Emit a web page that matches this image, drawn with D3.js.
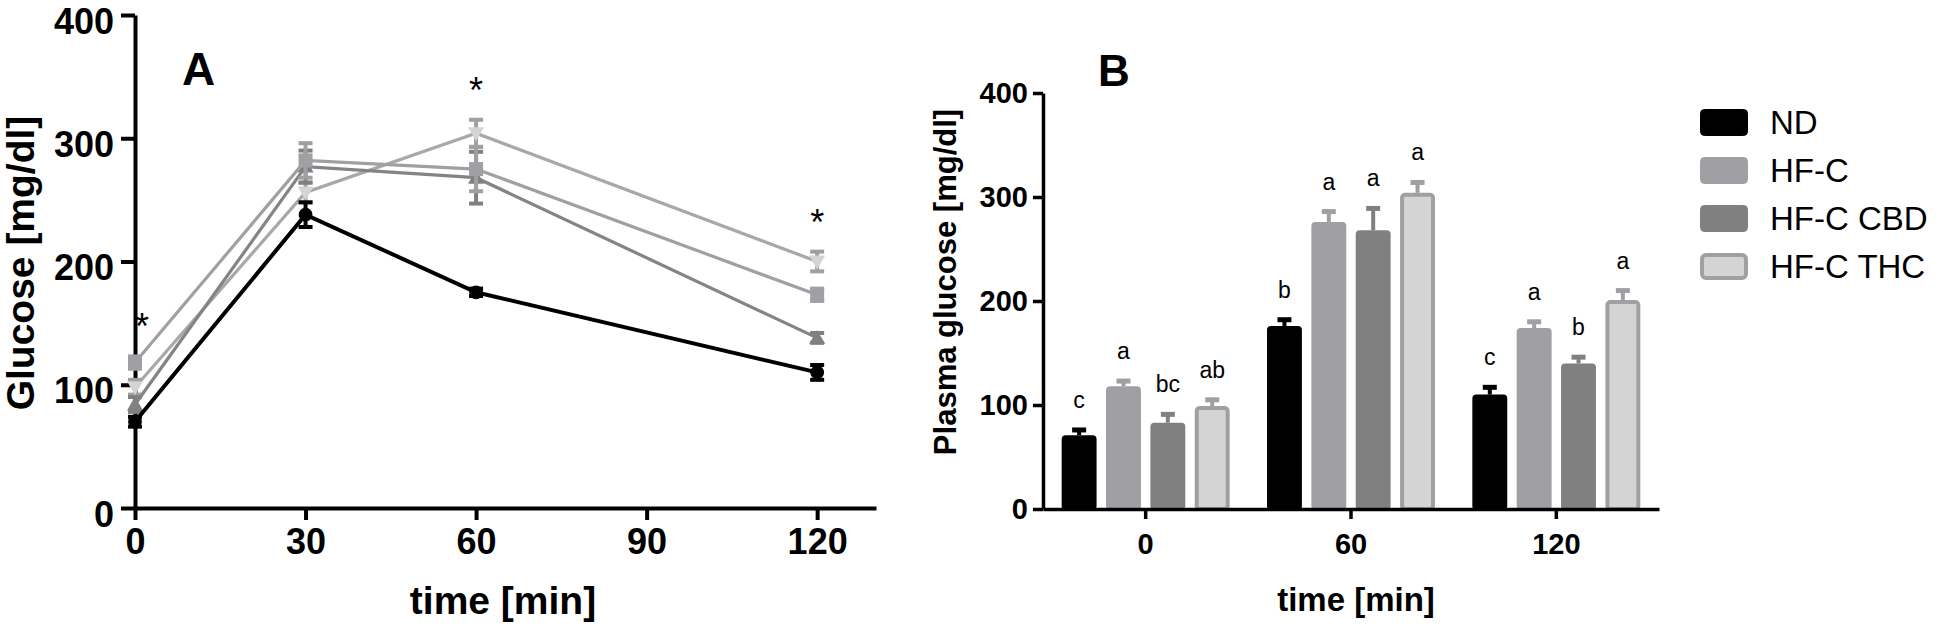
<!DOCTYPE html>
<html>
<head>
<meta charset="utf-8">
<script src="https://cdn.jsdelivr.net/npm/d3@7"></script>
<style>
html,body{margin:0;padding:0;background:#fff;}
svg{display:block;}
text{font-family:"Liberation Sans",Arial,Helvetica,sans-serif;}
</style>
</head>
<body>
<svg id="chart" width="1944" height="627"></svg>
<script>
// ---------------- DATA ----------------
const seriesNames = ["ND", "HF-C", "HF-C CBD", "HF-C THC"];

// Panel A: glucose tolerance time course
const timesA = [0, 30, 60, 120];
const ndA = [70, 238, 175, 110];
const ndASem = [4, 10, 3, 6];
const hfcA = [118, 282, 275, 173];
const hfcASem = [5, 14, 18, 5];
const cbdA = [84, 277, 268, 138];
const cbdASem = [6, 13, 21, 4];
const thcA = [98, 256, 304, 200];
const thcASem = [6, 8, 11, 8];
const starTimesA = [0, 60, 120];
const xTicksA = [0, 30, 60, 90, 120];
const yTicks = [0, 100, 200, 300, 400];

// Panel B: plasma glucose bars
const groupsB = ["0", "60", "120"];
const ndB = [71, 176, 110];
const ndBSem = [5, 6, 7];
const hfcB = [118, 276, 174];
const hfcBSem = [5, 10, 6];
const cbdB = [83, 268, 140];
const cbdBSem = [8, 21, 6];
const thcB = [99, 304, 201];
const thcBSem = [6, 10, 9];
const lettersND = ["c", "b", "c"];
const lettersHFC = ["a", "a", "a"];
const lettersCBD = ["bc", "a", "b"];
const lettersTHC = ["ab", "a", "a"];

// ---------------- STYLE ----------------
const FONT = '"Liberation Sans",Arial,Helvetica,sans-serif';
const colors = {
  "ND": {fill: "#000000", stroke: "#000000", line: "#000000", err: "#000000"},
  "HF-C": {fill: "#a0a0a4", stroke: "#a0a0a4", line: "#a0a0a4", err: "#a0a0a4"},
  "HF-C CBD": {fill: "#808080", stroke: "#808080", line: "#848484", err: "#808080"},
  "HF-C THC": {fill: "#d4d4d4", stroke: "#a0a0a4", line: "#a8a8a8", err: "#a0a0a4"}
};

const svg = d3.select("#chart");

// ================= PANEL A =================
const seriesA = [
  {name: "HF-C THC", vals: thcA, sem: thcASem, marker: "triDown"},
  {name: "HF-C CBD", vals: cbdA, sem: cbdASem, marker: "triUp"},
  {name: "HF-C", vals: hfcA, sem: hfcASem, marker: "square"},
  {name: "ND", vals: ndA, sem: ndASem, marker: "circle"}
];

const xA = d3.scaleLinear().domain([0, 130]).range([135, 874]);
const yA = d3.scaleLinear().domain([0, 400]).range([508, 15]);

const gA = svg.append("g");

// axes
const yAxisA = gA.append("g").attr("transform", `translate(${xA(0)},0)`)
  .call(d3.axisLeft(yA).tickValues(yTicks).tickSize(14).tickPadding(7).tickSizeOuter(0));
yAxisA.selectAll("text").attr("dy", "0.5em");
const xAxisA = gA.append("g").attr("transform", `translate(0,${yA(0)})`)
  .call(d3.axisBottom(xA).tickValues(xTicksA).tickSize(12).tickPadding(8).tickSizeOuter(0));
[yAxisA, xAxisA].forEach(ax => {
  ax.selectAll("path,line").attr("stroke", "#000").attr("stroke-width", 4);
  ax.selectAll("text").attr("font-family", FONT).attr("font-size", 36)
    .attr("font-weight", "bold").attr("fill", "#000");
});
xAxisA.select(".domain").attr("stroke-linecap", "square");

// lines
const lineGen = d3.line().x((d, i) => xA(timesA[i])).y(d => yA(d));
seriesA.forEach(s => {
  const c = colors[s.name];
  const g = gA.append("g");
  g.append("path").datum(s.vals).attr("d", lineGen)
    .attr("fill", "none").attr("stroke", c.line)
    .attr("stroke-width", s.name === "ND" ? 4 : 3.2);
  // error bars
  g.selectAll(".eb").data(s.vals).enter().append("g").each(function(d, i) {
    const x = xA(timesA[i]);
    const e = d3.select(this);
    const y1 = yA(d + s.sem[i]), y2 = yA(d - s.sem[i]);
    e.append("line").attr("x1", x).attr("x2", x).attr("y1", y1).attr("y2", y2)
      .attr("stroke", c.err).attr("stroke-width", 4);
    [y1, y2].forEach(yy => e.append("line").attr("x1", x - 7).attr("x2", x + 7)
      .attr("y1", yy).attr("y2", yy).attr("stroke", c.err).attr("stroke-width", 4));
  });
  // markers
  g.selectAll(".mk").data(s.vals).enter().append("path")
    .attr("transform", (d, i) => `translate(${xA(timesA[i])},${yA(d)})`)
    .attr("d", () => {
      if (s.marker === "circle") return d3.symbol(d3.symbolCircle, 150)();
      if (s.marker === "square") return "M-7,-7H7V7H-7Z";
      if (s.marker === "triUp") return "M0,-8L8,6H-8Z";
      return "M0,8L8,-6H-8Z";
    })
    .attr("fill", s.name === "HF-C THC" ? "#d4d4d4" : c.fill);
});

// significance asterisks
starTimesA.forEach(t => {
  const i = timesA.indexOf(t);
  const top = d3.max(seriesA, s => s.vals[i] + s.sem[i]);
  gA.append("text").attr("x", xA(t) + (t === 0 ? 7 : 0)).attr("y", yA(top) - 38 + 21)
    .attr("text-anchor", "middle").attr("font-size", 36).attr("font-family", FONT)
    .attr("fill", "#000").text("*");
});

// labels
gA.append("text").attr("x", 182).attr("y", 85).attr("font-size", 46)
  .attr("font-weight", "bold").attr("font-family", FONT).text("A");
gA.append("text").attr("transform", `translate(34,263) rotate(-90)`)
  .attr("text-anchor", "middle").attr("font-size", 39).attr("font-weight", "bold")
  .attr("font-family", FONT).text("Glucose [mg/dl]");
gA.append("text").attr("x", 503).attr("y", 614).attr("text-anchor", "middle")
  .attr("font-size", 39).attr("font-weight", "bold").attr("font-family", FONT)
  .text("time [min]");

// ================= PANEL B =================
const seriesB = [
  {name: "ND", vals: ndB, sem: ndBSem, letters: lettersND},
  {name: "HF-C", vals: hfcB, sem: hfcBSem, letters: lettersHFC},
  {name: "HF-C CBD", vals: cbdB, sem: cbdBSem, letters: lettersCBD},
  {name: "HF-C THC", vals: thcB, sem: thcBSem, letters: lettersTHC}
];

const xB = d3.scaleBand().domain(groupsB).range([1043, 1659]).padding(0);
const xInner = d3.scaleBand().domain(seriesNames).range([-84, 84]).paddingInner(0.213).paddingOuter(0);
const yB = d3.scaleLinear().domain([0, 400]).range([509, 93]);

const gB = svg.append("g");

// bars
seriesB.forEach(s => {
  const c = colors[s.name];
  const sw = s.name === "HF-C THC" ? 4 : 2;
  s.vals.forEach((v, i) => {
    const cx = xB(groupsB[i]) + xB.bandwidth() / 2;
    const bx = cx + xInner(s.name);
    const bw = xInner.bandwidth();
    const topY = yB(v);
    const errY = yB(v + s.sem[i]);
    // error bar (upward)
    gB.append("line").attr("x1", bx + bw / 2).attr("x2", bx + bw / 2)
      .attr("y1", topY).attr("y2", errY).attr("stroke", c.err).attr("stroke-width", 4);
    gB.append("line").attr("x1", bx + bw / 2 - 7).attr("x2", bx + bw / 2 + 7)
      .attr("y1", errY).attr("y2", errY).attr("stroke", c.err).attr("stroke-width", 5);
    gB.append("rect").attr("x", bx + sw / 2).attr("y", topY + sw / 2)
      .attr("width", bw - sw).attr("height", yB(0) - topY - sw / 2)
      .attr("rx", 3).attr("fill", c.fill).attr("stroke", c.stroke).attr("stroke-width", sw);
    gB.append("text").attr("x", bx + bw / 2).attr("y", errY - 22)
      .attr("text-anchor", "middle").attr("font-size", 23).attr("font-family", FONT)
      .attr("fill", "#000").text(s.letters[i]);
  });
});

const yAxisB = gB.append("g").attr("transform", `translate(1043,0)`)
  .call(d3.axisLeft(yB).tickValues(yTicks).tickSize(10).tickPadding(5).tickSizeOuter(0));
const xAxisB = gB.append("g").attr("transform", `translate(0,${yB(0)})`)
  .call(d3.axisBottom(xB).tickSize(10).tickPadding(14).tickSizeOuter(0));
[yAxisB, xAxisB].forEach(ax => {
  ax.selectAll("path,line").attr("stroke", "#000").attr("stroke-width", 3.5);
  ax.selectAll("text").attr("font-family", FONT).attr("font-size", 29)
    .attr("font-weight", "bold").attr("fill", "#000");
});

gB.append("text").attr("x", 1098).attr("y", 86).attr("font-size", 44)
  .attr("font-weight", "bold").attr("font-family", FONT).text("B");
gB.append("text").attr("transform", `translate(956,282) rotate(-90)`)
  .attr("text-anchor", "middle").attr("font-size", 31).attr("font-weight", "bold")
  .attr("font-family", FONT).text("Plasma glucose [mg/dl]");
gB.append("text").attr("x", 1356).attr("y", 611).attr("text-anchor", "middle")
  .attr("font-size", 33).attr("font-weight", "bold").attr("font-family", FONT)
  .text("time [min]");

// legend
const legend = gB.append("g").attr("transform", "translate(1700,109)");
seriesNames.forEach((n, i) => {
  const c = colors[n];
  const sw = n === "HF-C THC" ? 4 : 1;
  legend.append("rect").attr("x", sw / 2).attr("y", i * 48 + sw / 2)
    .attr("width", 48 - sw).attr("height", 27 - sw).attr("rx", 4)
    .attr("fill", c.fill).attr("stroke", c.stroke).attr("stroke-width", sw);
  legend.append("text").attr("x", 70).attr("y", i * 48 + 25)
    .attr("font-size", 33).attr("font-family", FONT).attr("fill", "#000").text(n);
});
</script>
</body>
</html>
